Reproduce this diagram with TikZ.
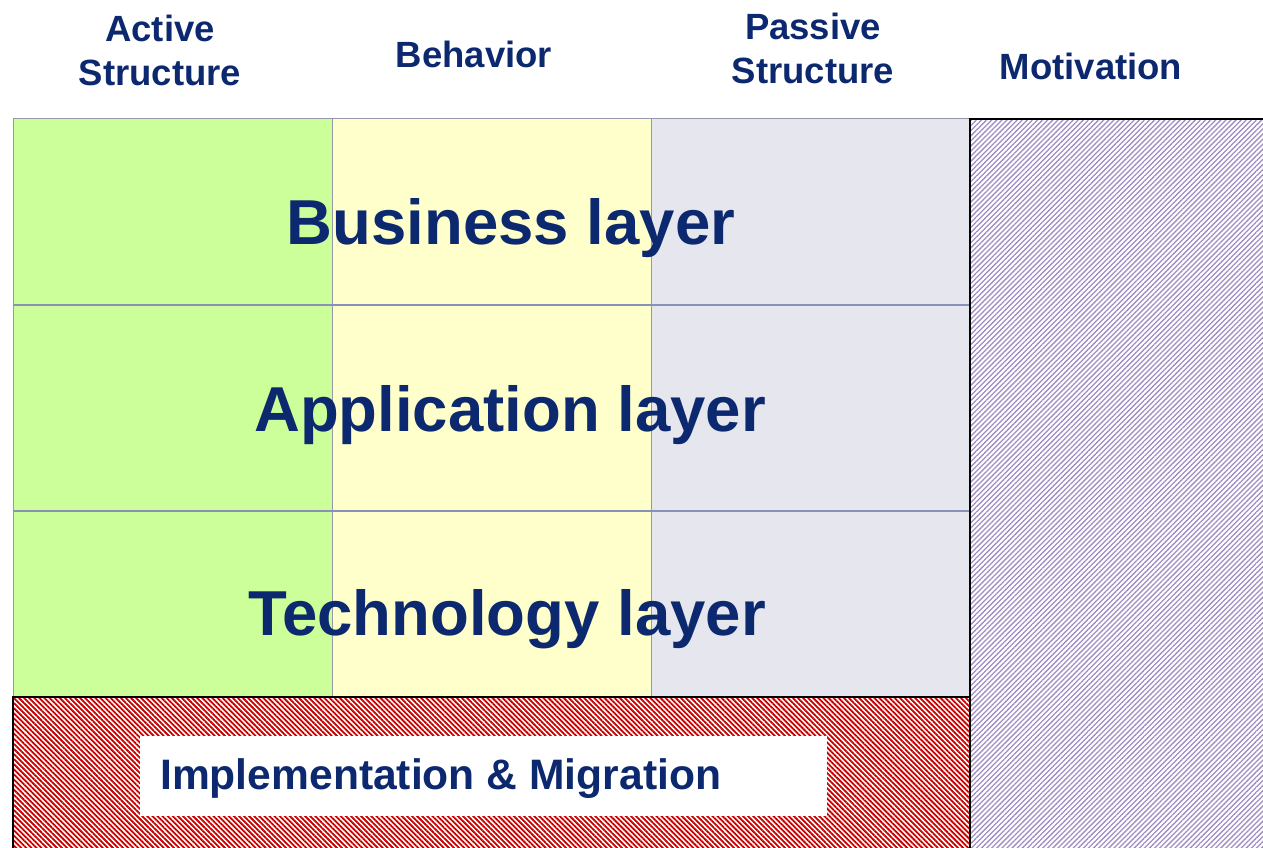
\documentclass[tikz,border=0pt]{standalone}
\usepackage{fontspec}
\setmainfont{Liberation Sans}
\usetikzlibrary{patterns.meta}
\definecolor{navy}{RGB}{12,40,110}
\definecolor{actgreen}{RGB}{204,255,153}
\definecolor{behyellow}{RGB}{255,255,204}
\definecolor{passgray}{RGB}{230,231,238}
\definecolor{sepblue}{RGB}{136,145,184}
\definecolor{colgray}{RGB}{150,152,165}
\definecolor{hatchred}{RGB}{200,0,0}
\definecolor{hatchpurple}{RGB}{160,140,195}
\tikzset{
  hdr/.style={font=\bfseries\fontsize{36.5}{44}\selectfont, text=navy, align=center, inner sep=0pt},
  layerlbl/.style={font=\bfseries\fontsize{63.5}{70}\selectfont, text=navy, anchor=base, inner sep=0pt},
  sep/.style={draw=sepblue, line width=2pt},
  colline/.style={draw=colgray, line width=0.8pt},
  blackbox/.style={draw=black, line width=2pt},
}
\begin{document}
\begin{tikzpicture}[x=1pt,y=-1pt]
\useasboundingbox (0,0) rectangle (1263,847);
% columns
\fill[actgreen] (13,118) rectangle (332,697);
\fill[behyellow] (332,118) rectangle (651,697);
\fill[passgray] (651,118) rectangle (970,697);
\draw[colline] (13,697) -- (13,118) -- (970,118);
\draw[colline] (332,118) -- (332,697);
\draw[colline] (651,118) -- (651,697);
% layer separators
\draw[sep] (13,305) -- (970,305);
\draw[sep] (13,511) -- (970,511);
% layer labels
\node[layerlbl] (business) at (511,244) {Business layer};
\node[layerlbl] (application) at (510,431) {Application layer};
\node[layerlbl] (technology) at (507,635) {Technology layer};
% implementation & migration
\fill[pattern={Lines[angle=-45,distance=3.6pt,line width=1.8pt]}, pattern color=hatchred] (13,697) rectangle (970,850);
\draw[blackbox] (13,850) -- (13,697) -- (970,697);
\fill[white] (140,736) rectangle (827,816);
\node[font=\bfseries\fontsize{42.6}{50}\selectfont, text=navy, anchor=base west, inner sep=0pt] (impl) at (160,789) {Implementation \& Migration};
% motivation
\fill[pattern={Lines[angle=45,distance=3.6pt,line width=1.3pt]}, pattern color=hatchpurple] (970,119) rectangle (1266,850);
\draw[blackbox] (970,850) -- (970,119) -- (1266,119);
% headers
\node[hdr] (active) at (160,50) {Active\\Structure};
\node[hdr, anchor=base] (behavior) at (474,67) {Behavior};
\node[hdr] (passive) at (813,48) {Passive\\Structure};
\node[hdr, anchor=base] (motivation) at (1091,79) {Motivation};
\end{tikzpicture}
\end{document}
